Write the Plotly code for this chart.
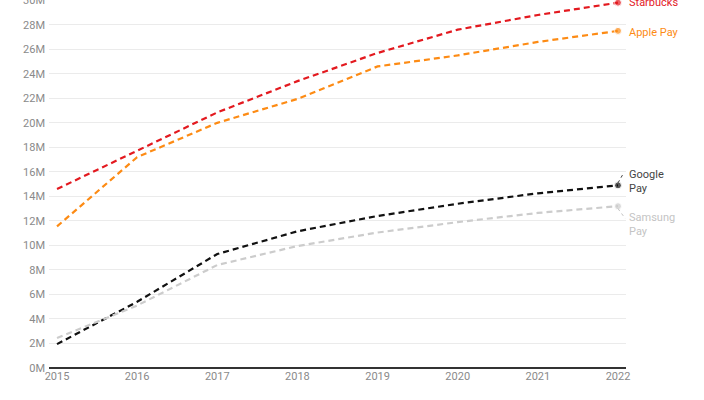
import plotly.graph_objects as go

years = [2015, 2016, 2017, 2018, 2019, 2020, 2021, 2022]
starbucks = [14.6, 17.7, 20.85, 23.4, 25.7, 27.6, 28.8, 29.8]
apple_pay = [11.55, 17.2, 20.0, 21.95, 24.6, 25.5, 26.6, 27.5]
google_pay = [1.95, 5.4, 9.3, 11.15, 12.4, 13.4, 14.25, 14.9]
samsung_pay = [2.45, 5.1, 8.4, 9.95, 11.05, 11.9, 12.65, 13.2]

series_names = ["Starbucks", "Apple Pay", "Google Pay", "Samsung Pay"]
series_values = [starbucks, apple_pay, google_pay, samsung_pay]
line_colors = ["#e3191f", "#fd8b14", "#111111", "#cccccc"]
label_texts = ["Starbucks", "Apple Pay", "Google<br>Pay", "Samsung<br>Pay"]
label_colors = ["#e3191f", "#fd8b14", "#444444", "#c4c4c4"]
label_offsets = [0.0, -0.15, 0.3, -1.5]  # label position relative to last value (M)

y_ticks = list(range(0, 31, 2))
y_tick_text = [f"{v}M" for v in y_ticks]

fig = go.Figure()
for name, vals, col in zip(series_names, series_values, line_colors):
    fig.add_trace(go.Scatter(
        x=years, y=vals, name=name, mode="lines+markers",
        line=dict(color=col, width=2.2, dash="6px,4px"),
        marker=dict(size=[0] * (len(years) - 1) + [7], color=col),
        hoverinfo="x+y+name",
    ))

annotations = []
shapes = []
for txt, col, vals, off in zip(label_texts, label_colors, series_values, label_offsets):
    annotations.append(dict(
        x=1, xref="paper", y=vals[-1] + off, yref="y", text=txt, showarrow=False,
        xanchor="left", yanchor="middle", align="left", xshift=1,
        font=dict(family="Roboto, Arial, sans-serif", size=11, color=col),
    ))

# dotted leader lines for Google Pay and Samsung Pay
shapes.append(dict(type="line", xref="x", yref="y",
                   x0=years[-1], y0=google_pay[-1] + 0.2,
                   x1=years[-1] + 0.07, y1=google_pay[-1] + 1.0,
                   line=dict(color="#444444", width=1, dash="dot")))
shapes.append(dict(type="line", xref="x", yref="y",
                   x0=years[-1], y0=samsung_pay[-1] - 0.2,
                   x1=years[-1] + 0.09, y1=samsung_pay[-1] - 1.0,
                   line=dict(color="#c4c4c4", width=1, dash="dot")))

fig.update_layout(
    width=704, height=400,
    margin=dict(l=49, r=78, t=0, b=32),
    paper_bgcolor="white", plot_bgcolor="white",
    showlegend=False,
    font=dict(family="Roboto, Arial, sans-serif", size=11, color="#8a8a8a"),
    annotations=annotations,
    shapes=shapes,
    xaxis=dict(
        range=[2014.9, 2022.1], tickmode="array", tickvals=years,
        ticktext=[str(y) for y in years], automargin=False,
        showgrid=False, zeroline=False, showline=False,
        ticks="", tickfont=dict(size=11, color="#8a8a8a"),
    ),
    yaxis=dict(
        range=[0, 30.02], tickmode="array", tickvals=y_ticks, ticktext=y_tick_text,
        automargin=False, ticklabeloverflow="allow",
        showgrid=True, gridcolor="#ebebeb", gridwidth=1,
        zeroline=True, zerolinecolor="#333333", zerolinewidth=1.5,
        showline=False, ticks="", ticklabelstandoff=3,
        tickfont=dict(size=11, color="#8a8a8a"),
    ),
)

fig.write_html(
    "out.html",
    config={"displayModeBar": False},
    post_script="document.body.style.margin='0';document.body.style.overflow='hidden';",
)
